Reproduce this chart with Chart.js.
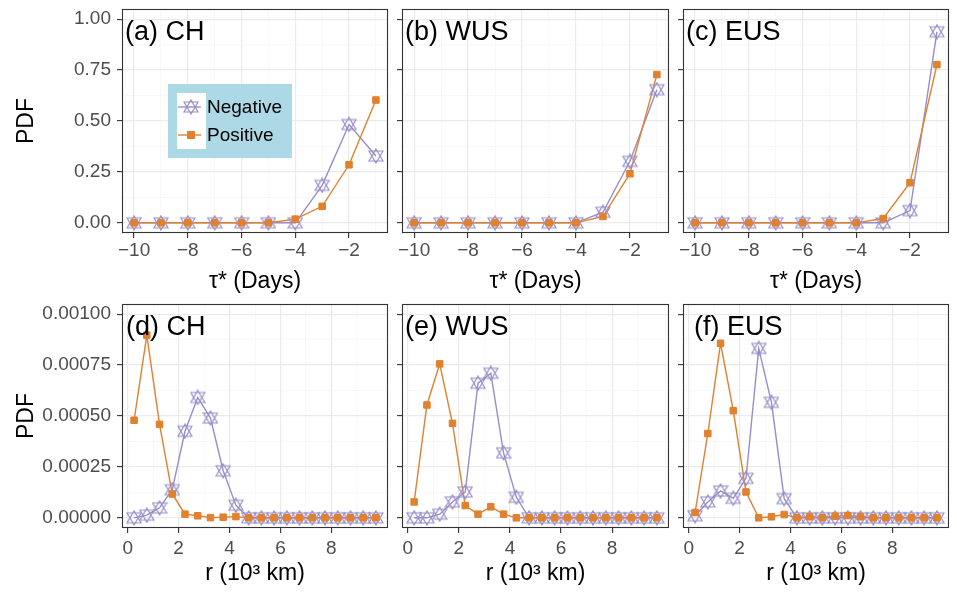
<!DOCTYPE html>
<html><head><meta charset="utf-8">
<script src="https://cdn.jsdelivr.net/npm/chart.js@4.4.1/dist/chart.umd.min.js"></script>
<style>
html,body{margin:0;padding:0;background:#fff;}
#wrap{position:relative;width:957px;height:594px;overflow:hidden;background:#fff;}
#wrap canvas{position:absolute;}
</style></head><body><div id="wrap"></div>
<script>
// ---------- data ----------
const seriesNames = ['Negative', 'Positive'];
const panelLabels = ['(a) CH', '(b) WUS', '(c) EUS', '(d) CH', '(e) WUS', '(f) EUS'];

const tauDays = [-10, -9, -8, -7, -6, -5, -4, -3, -2, -1];
const chNegTau  = [0, 0, 0, 0, 0, 0, 0,     0.184, 0.483, 0.328];
const chPosTau  = [0, 0, 0, 0, 0, 0, 0.018, 0.081, 0.285, 0.603];
const wusNegTau = [0, 0, 0, 0, 0, 0, 0,     0.052, 0.302, 0.654];
const wusPosTau = [0, 0, 0, 0, 0, 0, 0,     0.031, 0.241, 0.728];
const eusNegTau = [0, 0, 0, 0, 0, 0, 0,     0,     0.060, 0.938];
const eusPosTau = [0, 0, 0, 0, 0, 0, 0,     0.021, 0.197, 0.777];

const rDist = [0.25, 0.75, 1.25, 1.75, 2.25, 2.75, 3.25, 3.75, 4.25, 4.75,
               5.25, 5.75, 6.25, 6.75, 7.25, 7.75, 8.25, 8.75, 9.25, 9.75];
const chNegR  = [0, 0.000013, 0.000049, 0.000138, 0.000425, 0.000591, 0.000490, 0.000231, 0.000062, 0,
                 0, 0, 0, 0, 0, 0, 0, 0, 0, 0];
const chPosR  = [0.000479, 0.000897, 0.000459, 0.000117, 0.000018, 0.000010, 0.000001, 0.000003, 0.000006, 0,
                 0, 0, 0, 0, 0, 0, 0, 0, 0, 0];
const wusNegR = [0, 0, 0.000018, 0.000078, 0.000127, 0.000661, 0.000710, 0.000319, 0.000101, 0,
                 0, 0, 0, 0, 0, 0, 0, 0, 0, 0];
const wusPosR = [0.000078, 0.000554, 0.000756, 0.000464, 0.000060, 0.000018, 0.000054, 0.000018, 0, 0,
                 0, 0, 0, 0, 0, 0, 0, 0, 0, 0];
const eusNegR = [0.000010, 0.000078, 0.000132, 0.000096, 0.000194, 0.000832, 0.000567, 0.000094, 0, 0,
                 0, 0, 0, 0, 0, 0, 0, 0, 0, 0];
const eusPosR = [0.000026, 0.000414, 0.000857, 0.000526, 0.000127, 0, 0.000005, 0.000016, 0, 0.000005,
                 0, 0.000008, 0.000011, 0.000005, 0, 0, 0, 0, 0, 0];

// tick values / labels
const tauMajor = [-10, -8, -6, -4, -2];
const tauMinor = [-9, -7, -5, -3, -1];
const tauLabels = ['\u221210', '\u22128', '\u22126', '\u22124', '\u22122'];
const rMajor = [0, 2, 4, 6, 8];
const rMinor = [1, 3, 5, 7, 9];
const rLabels = ['0', '2', '4', '6', '8'];
const pdfTauMajor = [0, 0.25, 0.5, 0.75, 1];
const pdfTauMinor = [0.125, 0.375, 0.625, 0.875];
const pdfTauLabels = ['0.00', '0.25', '0.50', '0.75', '1.00'];
const pdfRMajor = [0, 0.00025, 0.0005, 0.00075, 0.001];
const pdfRMinor = [0.000125, 0.000375, 0.000625, 0.000875];
const pdfRLabels = ['0.00000', '0.00025', '0.00050', '0.00075', '0.00100'];

const xTitles = ['\u03C4* (Days)', 'r (10\u00B3 km)'];
const yTitle = 'PDF';

// ---------- style ----------
const FONT = '"Liberation Sans", Arial, Helvetica, sans-serif';
const NEG_COLOR = '#978DC8';
const POS_COLOR = '#E1812E';

function makeStar(color) {
  const c = document.createElement('canvas');
  c.width = 16; c.height = 16;
  const g = c.getContext('2d');
  g.strokeStyle = color; g.lineWidth = 1.2;
  g.beginPath();
  g.moveTo(8, 1); g.lineTo(15, 13); g.lineTo(1, 13); g.closePath();
  g.moveTo(8, 15); g.lineTo(15, 3); g.lineTo(1, 3); g.closePath();
  g.stroke();
  return c;
}
const starImg = makeStar(NEG_COLOR);

function tickBuilder(major, minor) {
  return function (scale) {
    const t = major.map(v => ({ value: v, mj: true })).concat(minor.map(v => ({ value: v, mj: false })));
    t.sort((a, b) => a.value - b.value);
    scale.ticks = t;
  };
}
function labelCb(major, labels) {
  return function (value, index, ticks) {
    const t = ticks[index];
    if (!t || !t.mj) return '';
    const k = major.findIndex(v => Math.abs(v - value) < 1e-12);
    return k >= 0 ? labels[k] : '';
  };
}
const gridOpts = {
  color: c => (c.tick && c.tick.mj) ? '#EBEBEB' : '#F3F3F3',
  lineWidth: c => (c.tick && c.tick.mj) ? 1.2 : 0.6,
  tickColor: c => (c.tick && c.tick.mj) ? '#333333' : 'rgba(0,0,0,0)',
  tickLength: 5,
  tickWidth: 1.1,
  drawTicks: true
};
function zeroPad(s) { s.paddingTop = 0; s.paddingBottom = 0; s.paddingLeft = 0; s.paddingRight = 0; }

const decorPlugin = {
  id: 'panelDecor',
  afterDraw(chart, args, opts) {
    const a = chart.chartArea, g = chart.ctx;
    g.save();
    // panel label
    g.font = '27px ' + FONT;
    g.fillStyle = '#000';
    g.textAlign = 'left';
    g.textBaseline = 'alphabetic';
    g.fillText(opts.label, a.left + opts.dx, a.top + 31);
    // legend
    if (opts.legend) {
      const bx = a.left + 46, by = a.top + 75;
      g.fillStyle = '#ADD8E6';
      g.fillRect(bx, by, 124, 74);
      g.fillStyle = '#FFFFFF';
      g.fillRect(bx + 9, by + 9, 29, 56);
      const rows = [by + 23, by + 51];
      const cols = [NEG_COLOR, POS_COLOR];
      for (let i = 0; i < 2; i++) {
        const y = rows[i];
        g.strokeStyle = cols[i]; g.lineWidth = 1.4;
        g.beginPath(); g.moveTo(bx + 10, y); g.lineTo(bx + 33, y); g.stroke();
        if (i === 0) {
          g.drawImage(starImg, bx + 23 - 8, y - 8);
        } else {
          g.fillStyle = POS_COLOR;
          g.fillRect(bx + 23 - 4, y - 4, 8, 8);
        }
        g.fillStyle = '#000';
        g.font = '19px ' + FONT;
        g.textBaseline = 'middle';
        g.fillText(seriesNames[i], bx + 39, y + 1);
      }
    }
    // panel border
    g.strokeStyle = '#333333';
    g.lineWidth = 1.1;
    g.strokeRect(Math.round(a.left) + 0.5, Math.round(a.top) + 0.5,
                 Math.round(a.right - a.left) - 1, Math.round(a.bottom - a.top) - 1);
    g.restore();
  }
};

// ---------- layout geometry ----------
const colAreas = [[122, 392], [402, 673], [683, 953]];
const rowAreas = [[9, 233], [304, 528]];
const rowCanvas = [[0, 300], [290, 594]];
const Y_AXIS_W = 122, RIGHT_PAD = 4;

const rowCfg = [
  { xVals: tauDays, xMin: -10.45, xMax: -0.55, xMajor: tauMajor, xMinor: tauMinor, xLabels: tauLabels,
    yMin: -0.05, yMax: 1.05, yMajor: pdfTauMajor, yMinor: pdfTauMinor, yLabels: pdfTauLabels,
    xTitle: xTitles[0], tickPad: 3, titlePad: 5 },
  { xVals: rDist, xMin: -0.225, xMax: 10.225, xMajor: rMajor, xMinor: rMinor, xLabels: rLabels,
    yMin: -0.00005, yMax: 0.00105, yMajor: pdfRMajor, yMinor: pdfRMinor, yLabels: pdfRLabels,
    xTitle: xTitles[1], tickPad: 6, titlePad: 7 }
];

const panels = [
  { row: 0, col: 0, neg: chNegTau,  pos: chPosTau,  legend: true,  dx: 3 },
  { row: 0, col: 1, neg: wusNegTau, pos: wusPosTau, legend: false, dx: 3 },
  { row: 0, col: 2, neg: eusNegTau, pos: eusPosTau, legend: false, dx: 3 },
  { row: 1, col: 0, neg: chNegR,    pos: chPosR,    legend: false, dx: 4 },
  { row: 1, col: 1, neg: wusNegR,   pos: wusPosR,   legend: false, dx: 3 },
  { row: 1, col: 2, neg: eusNegR,   pos: eusPosR,   legend: false, dx: 11 }
];

const wrap = document.getElementById('wrap');
panels.forEach((p, idx) => {
  const rc = rowCfg[p.row];
  const cLeft = colAreas[p.col][0] - Y_AXIS_W;
  const cWidth = colAreas[p.col][1] + RIGHT_PAD - cLeft;
  const cTop = rowCanvas[p.row][0];
  const cHeight = rowCanvas[p.row][1] - cTop;
  const padTop = rowAreas[p.row][0] - cTop;
  const xAxisH = rowCanvas[p.row][1] - rowAreas[p.row][1];
  const targetRight = colAreas[p.col][1] - cLeft;

  const cv = document.createElement('canvas');
  cv.width = cWidth; cv.height = cHeight;
  cv.style.left = cLeft + 'px'; cv.style.top = cTop + 'px';
  cv.style.width = cWidth + 'px'; cv.style.height = cHeight + 'px';
  wrap.appendChild(cv);

  const toPts = arr => rc.xVals.map((x, i) => ({ x: x, y: arr[i] }));
  const negPts = toPts(p.neg), posPts = toPts(p.pos);

  const chart = new Chart(cv, {
    type: 'line',
    data: {
      datasets: [
        { label: seriesNames[0] + ' line', data: negPts, borderColor: NEG_COLOR, borderWidth: 1.4,
          pointRadius: 0, fill: false, tension: 0, order: 3 },
        { label: seriesNames[1] + ' line', data: posPts, borderColor: POS_COLOR, borderWidth: 1.4,
          pointRadius: 0, fill: false, tension: 0, order: 2 },
        { label: seriesNames[0], data: negPts, showLine: false, pointStyle: starImg, pointRadius: 7,
          borderColor: NEG_COLOR, backgroundColor: NEG_COLOR, order: 1 },
        { label: seriesNames[1], data: posPts, showLine: false, pointStyle: 'rect', pointRadius: 4.6,
          pointBorderWidth: 1, borderColor: POS_COLOR, backgroundColor: POS_COLOR, order: 0 }
      ]
    },
    options: {
      responsive: false,
      animation: false,
      events: [],
      devicePixelRatio: 1,
      layout: { padding: { left: 0, right: RIGHT_PAD, top: padTop, bottom: 0 } },
      plugins: {
        legend: { display: false },
        tooltip: { enabled: false },
        panelDecor: { label: panelLabels[idx], legend: p.legend, dx: p.dx }
      },
      scales: {
        x: {
          type: 'linear', position: 'bottom', min: rc.xMin, max: rc.xMax,
          afterBuildTicks: tickBuilder(rc.xMajor, rc.xMinor),
          afterFit: s => { s.height = xAxisH; zeroPad(s); },
          ticks: { autoSkip: false, maxRotation: 0, padding: rc.tickPad, color: '#4D4D4D',
                   font: { family: FONT, size: 19, lineHeight: 1 }, callback: labelCb(rc.xMajor, rc.xLabels) },
          grid: gridOpts,
          border: { display: false },
          title: { display: true, text: rc.xTitle, color: '#000',
                   font: { family: FONT, size: 23 }, padding: { top: 0, bottom: rc.titlePad } }
        },
        y: {
          type: 'linear', position: 'left', min: rc.yMin, max: rc.yMax,
          afterBuildTicks: tickBuilder(rc.yMajor, rc.yMinor),
          afterFit: s => { s.width = Y_AXIS_W; zeroPad(s); },
          ticks: { display: p.col === 0, autoSkip: false, padding: 6, color: '#4D4D4D',
                   font: { family: FONT, size: 19, lineHeight: 1 }, callback: labelCb(rc.yMajor, rc.yLabels) },
          grid: gridOpts,
          border: { display: false },
          title: { display: p.col === 0, text: yTitle, color: '#000',
                   font: { family: FONT, size: 23 }, padding: { top: 13, bottom: 0 } }
        }
      }
    },
    plugins: [decorPlugin]
  });

  // make the plot-area's right edge land exactly where the reference panel ends
  for (let k = 0; k < 4; k++) {
    const d = Math.round(targetRight - chart.chartArea.right);
    if (d === 0) break;
    chart.resize(chart.width + d, cHeight);
  }
});
</script>
</body></html>
